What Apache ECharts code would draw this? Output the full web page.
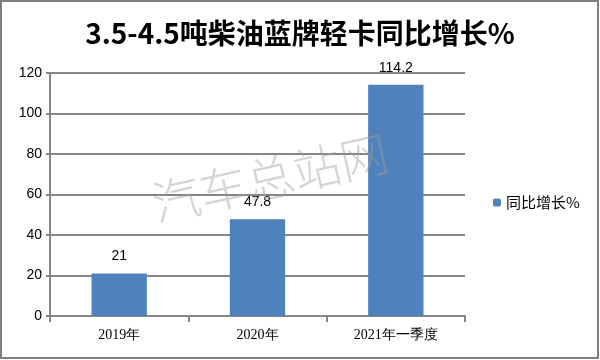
<!DOCTYPE html>
<html><head><meta charset="utf-8">
<script src="https://cdn.jsdelivr.net/npm/echarts@6/dist/echarts.min.js"></script>
<style>html,body{margin:0;padding:0;background:#fff}#c{width:600px;height:360px}</style>
</head><body><div id="c"></div>
<script>
const categories = ['2019年', '2020年', '2021年一季度'];
const values = [21, 47.8, 114.2];
const seriesName = '同比增长%';
const titleText = '3.5-4.5吨柴油蓝牌轻卡同比增长%';
const watermark = '汽车总站网';

const chart = echarts.init(document.getElementById('c'));
chart.setOption({
  animation: false,
  title: {
    text: titleText, left: 'center', top: 14,
    textStyle: { fontSize: 28, fontWeight: 'bold', color: '#000', fontFamily: 'Noto Sans CJK SC' }
  },
  legend: {
    data: [seriesName], orient: 'vertical', left: 488, top: 190,
    itemWidth: 8, itemHeight: 8, itemGap: 6,
    textStyle: { fontSize: 15, color: '#000', fontFamily: 'Noto Sans CJK SC' }
  },
  grid: { left: 50, right: 135, top: 73, bottom: 44 },
  xAxis: {
    type: 'category', data: categories,
    axisLine: { lineStyle: { color: '#868686', width: 2 } },
    axisTick: { show: true, length: 6, lineStyle: { color: '#868686', width: 2 } },
    axisLabel: { fontSize: 14, color: '#000', margin: 12, fontFamily: 'Liberation Serif' }
  },
  yAxis: {
    type: 'value', min: 0, max: 120, interval: 20,
    axisLine: { show: true, lineStyle: { color: '#868686', width: 2 } },
    axisTick: { show: true, length: 4, lineStyle: { color: '#868686', width: 2 } },
    axisLabel: { fontSize: 14, color: '#000', margin: 8, fontFamily: 'Liberation Sans' },
    splitLine: { lineStyle: { color: '#868686', width: 2 } }
  },
  series: [{
    name: seriesName, type: 'bar', data: values, barWidth: '40%',
    itemStyle: { color: '#4F81BD' },
    label: { show: true, position: 'top', distance: 10, fontSize: 14, color: '#000', fontFamily: 'Liberation Sans' }
  }],
  graphic: [
    { type: 'rect', shape: { x: 1, y: 1, width: 597, height: 357 }, style: { fill: 'none', stroke: '#7f7f7f', lineWidth: 2 }, z: 100 },
    { type: 'text', x: 270, y: 178, rotation: 0.22, z: 50,
      style: { text: watermark, fontSize: 48, fill: 'rgba(160,160,160,0.45)', align: 'center', verticalAlign: 'middle', fontFamily: 'Noto Sans CJK SC', fontWeight: 200 } }
  ]
});
</script></body></html>
